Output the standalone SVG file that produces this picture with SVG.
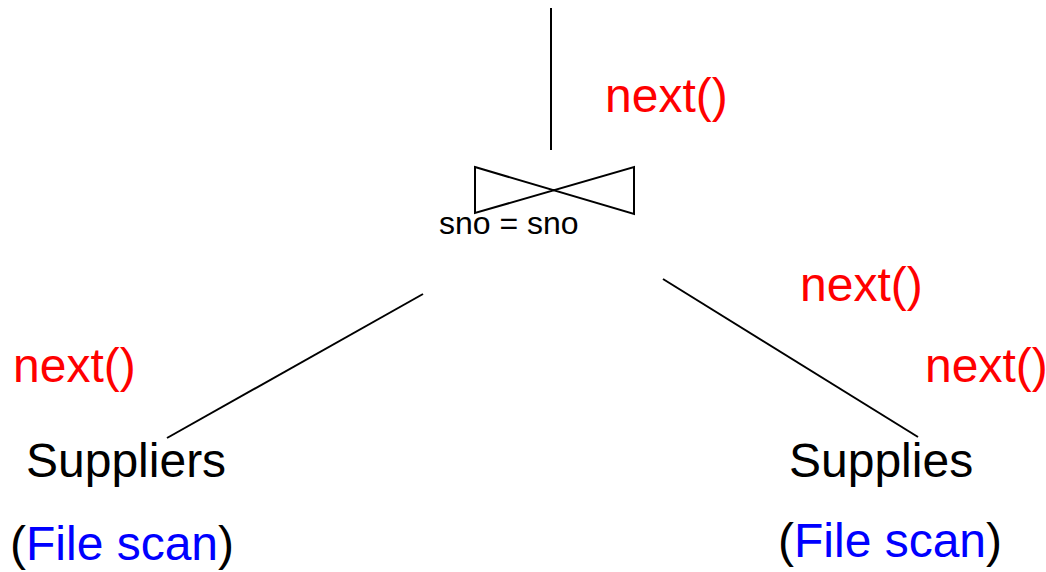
<svg xmlns="http://www.w3.org/2000/svg" width="1046" height="572" viewBox="0 0 1046 572">
<style>
.t{font-family:"Liberation Sans",Arial,sans-serif;font-size:48px;fill:#000}
.r{fill:#ff0000}
.b{fill:#0000ff}
.s{font-family:"Liberation Sans",Arial,sans-serif;font-size:32px;fill:#000}
.ln{stroke:#000;stroke-width:2;fill:none}
</style>
<rect width="1046" height="572" fill="#fff"/>
<g id="connectors">
<line class="ln" x1="551" y1="8" x2="551" y2="150"/>
<line class="ln" x1="423" y1="294" x2="167" y2="438"/>
<line class="ln" x1="663" y1="279" x2="918" y2="437"/>
</g>
<g id="join">
<path class="ln" d="M475,167 L634,214 L634,167 L475,213 Z"/>
<text class="s" x="439" y="234">sno = sno</text>
</g>
<g id="labels">
<text class="t r" x="605" y="112">next()</text>
<text class="t r" x="800" y="301">next()</text>
<text class="t r" x="925" y="382">next()</text>
<text class="t r" x="13" y="382">next()</text>
</g>
<g id="suppliers">
<text class="t" x="26" y="477">Suppliers</text>
<text class="t" x="10" y="560">(<tspan class="b">File scan</tspan>)</text>
</g>
<g id="supplies">
<text class="t" x="789" y="477">Supplies</text>
<text class="t" x="778" y="557">(<tspan class="b">File scan</tspan>)</text>
</g>
</svg>
